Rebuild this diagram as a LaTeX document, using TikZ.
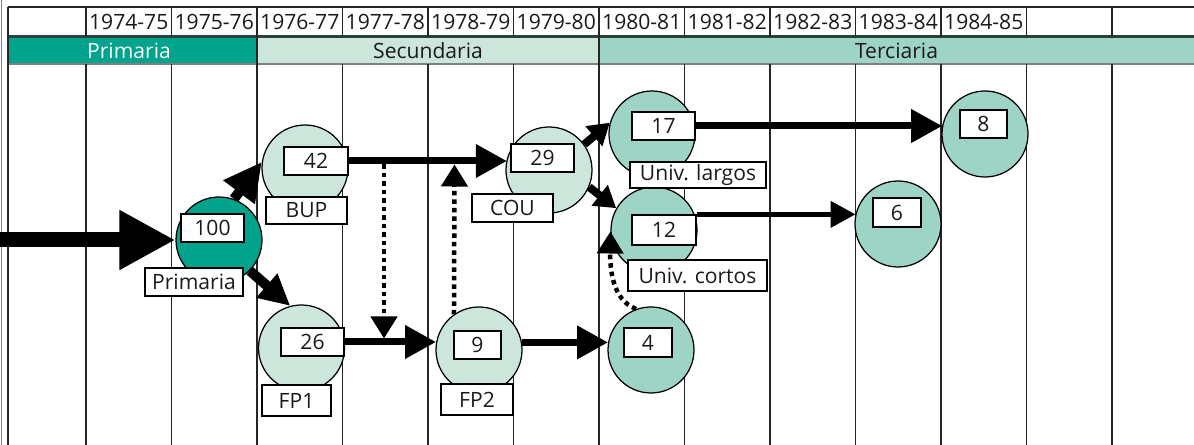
\documentclass[tikz,border=0pt]{standalone}
\usepackage{fontspec}
\setmainfont{Open Sans}
\usetikzlibrary{arrows.meta}
\begin{document}
\begin{tikzpicture}[
    stage/.style={circle, draw=black, line width=0.025cm, minimum size=1.72cm, inner sep=0pt},
    valbox/.style={draw=black, fill=white, line width=0.025cm, minimum height=0.56cm, inner sep=0pt},
    namebox/.style={draw=black, fill=white, line width=0.025cm, minimum height=0.56cm, inner sep=0pt},
    gridline/.style={line width=0.03cm, color=r38g38b38},
    bigarrow/.style={line width=0.30cm, -{Triangle[length=1.12cm,width=1.12cm]}},
    buparrow/.style={line width=0.20cm, -{Triangle[length=0.76cm,width=0.74cm]}},
    fparrow/.style={line width=0.20cm, -{Triangle[length=0.62cm,width=0.60cm]}},
    flowarrow/.style={line width=0.14cm, -{Triangle[length=0.62cm,width=0.64cm]}},
    thinflow/.style={line width=0.09cm, -{Triangle[length=0.50cm,width=0.52cm]}},
    shortarrow/.style={line width=0.16cm, -{Triangle[length=0.42cm,width=0.50cm]}},
    passarrow/.style={line width=0.09cm, dash pattern=on 0.09cm off 0.08cm, -{Triangle[length=0.44cm,width=0.52cm]}}
  ]
  \useasboundingbox (0,0) rectangle (23.88,8.90);
  {\fontsize{12}{14}\selectfont

  % Changing colors
  \definecolor{r0g163b139}{rgb}{0.000000,0.639216,0.545098}%
  \definecolor{r204g230b220}{rgb}{0.800000,0.901961,0.862745}%
  \definecolor{r157g212b198}{rgb}{0.615686,0.831373,0.776471}%
  \definecolor{r38g38b38}{rgb}{0.149020,0.149020,0.149020}%
  \definecolor{r40g66b60}{rgb}{0.156863,0.258824,0.235294}%
  \definecolor{r26g26b26}{rgb}{0.101961,0.101961,0.101961}%
  \color{r26g26b26}%

  % Drawing stage bands
  \fill [r0g163b139] (0.16,7.62) rectangle (5.14,8.16);%
  \fill [r204g230b220] (5.14,7.62) rectangle (11.98,8.16);%
  \fill [r157g212b198] (11.98,7.62) rectangle (23.88,8.16);%
  \node [text=white] (bprim) at (2.58,7.89) {Primaria};%
  \node (bsec) at (8.56,7.89) {Secundaria};%
  \node (bter) at (17.93,7.89) {Terciaria};%

  % Drawing header lines
  \draw [gridline] (0.16,8.76) -- (23.88,8.76);%
  \draw [line width=0.06cm, color=r40g66b60] (0.16,8.16) -- (23.88,8.16);%
  \draw [line width=0.03cm, color=gray] (0.16,7.62) -- (23.88,7.62);%
  \draw [line width=0.02cm, color=gray] (0.02,0.00) -- (0.02,8.90);%
  \draw [gridline] (0.16,0.00) -- (0.16,8.76);%
  \draw [gridline] (5.14,7.62) -- (5.14,8.16);%
  \draw [gridline] (11.98,7.62) -- (11.98,8.16);%

  % Drawing year columns
  \draw [gridline] (1.72,0.00) -- (1.72,7.62) (1.72,8.16) -- (1.72,8.76);%
  \draw [gridline] (3.43,0.00) -- (3.43,7.62) (3.43,8.16) -- (3.43,8.76);%
  \draw [gridline] (5.14,0.00) -- (5.14,7.62) (5.14,8.16) -- (5.14,8.76);%
  \draw [gridline] (6.85,0.00) -- (6.85,7.62) (6.85,8.16) -- (6.85,8.76);%
  \draw [gridline] (8.56,0.00) -- (8.56,7.62) (8.56,8.16) -- (8.56,8.76);%
  \draw [gridline] (10.27,0.00) -- (10.27,7.62) (10.27,8.16) -- (10.27,8.76);%
  \draw [gridline] (11.98,0.00) -- (11.98,7.62) (11.98,8.16) -- (11.98,8.76);%
  \draw [gridline] (13.69,0.00) -- (13.69,7.62) (13.69,8.16) -- (13.69,8.76);%
  \draw [gridline] (15.40,0.00) -- (15.40,7.62) (15.40,8.16) -- (15.40,8.76);%
  \draw [gridline] (17.11,0.00) -- (17.11,7.62) (17.11,8.16) -- (17.11,8.76);%
  \draw [gridline] (18.82,0.00) -- (18.82,7.62) (18.82,8.16) -- (18.82,8.76);%
  \draw [gridline] (20.53,0.00) -- (20.53,7.62) (20.53,8.16) -- (20.53,8.76);%
  \draw [gridline] (22.24,0.00) -- (22.24,7.62) (22.24,8.16) -- (22.24,8.76);%
  \node (y7475) at (2.575,8.46) {1974-75};%
  \node (y7576) at (4.285,8.46) {1975-76};%
  \node (y7677) at (5.995,8.46) {1976-77};%
  \node (y7778) at (7.705,8.46) {1977-78};%
  \node (y7879) at (9.415,8.46) {1978-79};%
  \node (y7980) at (11.125,8.46) {1979-80};%
  \node (y8081) at (12.835,8.46) {1980-81};%
  \node (y8182) at (14.545,8.46) {1981-82};%
  \node (y8283) at (16.255,8.46) {1982-83};%
  \node (y8384) at (17.965,8.46) {1983-84};%
  \node (y8485) at (19.675,8.46) {1984-85};%

  % Drawing stages
  \node [stage, fill=r0g163b139] (c100) at (4.38,4.10) {};%
  \node [stage, fill=r204g230b220] (c42) at (6.10,5.54) {};%
  \node [stage, fill=r204g230b220] (c26) at (6.03,1.94) {};%
  \node [stage, fill=r204g230b220] (c9) at (9.58,1.90) {};%
  \node [stage, fill=r204g230b220] (c29) at (10.98,5.50) {};%
  \node [stage, fill=r157g212b198] (c17) at (13.04,6.22) {};%
  \node [stage, fill=r157g212b198] (c12) at (13.08,4.30) {};%
  \node [stage, fill=r157g212b198] (c4) at (13.02,1.90) {};%
  \node [stage, fill=r157g212b198] (c6) at (17.96,4.42) {};%
  \node [stage, fill=r157g212b198] (c8) at (19.70,6.22) {};%

  % Drawing values
  \node [valbox, minimum width=1.26cm] (v100) at (4.25,4.34) {100};%
  \node [valbox, minimum width=1.28cm] (v42) at (6.32,5.68) {42};%
  \node [valbox, minimum width=1.26cm] (v26) at (6.25,2.06) {26};%
  \node [valbox, minimum width=0.94cm] (v9) at (9.55,2.00) {9};%
  \node [valbox, minimum width=0.96cm, minimum height=0.58cm] (v4) at (12.96,2.05) {4};%
  \node [valbox, minimum width=1.26cm] (v29) at (10.85,5.74) {29};%
  \node [valbox, minimum width=1.26cm] (v17) at (13.27,6.38) {17};%
  \node [valbox, minimum width=1.28cm, minimum height=0.60cm] (v12) at (13.28,4.30) {12};%
  \node [valbox, minimum width=0.96cm, minimum height=0.58cm] (v6) at (17.94,4.65) {6};%
  \node [valbox, minimum width=0.94cm] (v8) at (19.67,6.42) {8};%

  % Drawing stage names
  \node [namebox, minimum width=1.96cm] (l100) at (3.88,3.26) {Primaria};%
  \node [namebox, minimum width=1.62cm, minimum height=0.54cm] (l42) at (6.13,4.69) {BUP};%
  \node [namebox, minimum width=1.38cm, minimum height=0.62cm] (l26) at (5.93,0.89) {FP1};%
  \node [namebox, minimum width=1.44cm, minimum height=0.62cm] (l9) at (9.54,0.91) {FP2};%
  \node [namebox, minimum width=1.62cm] (l29) at (10.25,4.74) {COU};%
  \node [namebox, minimum width=2.72cm, minimum height=0.52cm] (l17) at (13.96,5.40) {Univ. largos};%
  \node [namebox, minimum width=2.78cm, minimum height=0.62cm] (l12) at (13.95,3.39) {Univ. cortos};%

  % Drawing flows
  \color{black}%
  \coordinate (src) at (0.00,4.10);%
  \draw [bigarrow] (src) -- (c100.west);%
  \draw [buparrow] (c100.70) -- (c42.172);%
  \draw [fparrow] (c100.-45) -- (c26.105);%
  \draw [flowarrow] (v42.east) -- (v42.east -| c29.165);%
  \draw [flowarrow] (v26.east) -- (v26.east -| c9.170);%
  \draw [flowarrow] (c9.10) -- (c4.170);%
  \draw [shortarrow] (c29.36) -- (c17.165);%
  \draw [shortarrow] (c29.-23) -- (c12.150);%
  \draw [flowarrow] (v17.east) -- (v17.east -| c8.169);%
  \draw [thinflow] (v12.north east) -- (v12.north east -| c6.167);%

  % Drawing transfers
  \coordinate (bupline) at (7.68,5.61);%
  \coordinate (fpline) at (7.68,2.13);%
  \coordinate (couline) at (9.09,5.61);%
  \draw [passarrow] (bupline) -- (fpline);%
  \draw [passarrow] (c9.125) -- (couline);%
  \draw [passarrow] (c4.110) .. controls (12.24,2.90) and (12.20,3.54) .. (c12.182);%
  }
\end{tikzpicture}
\end{document}
